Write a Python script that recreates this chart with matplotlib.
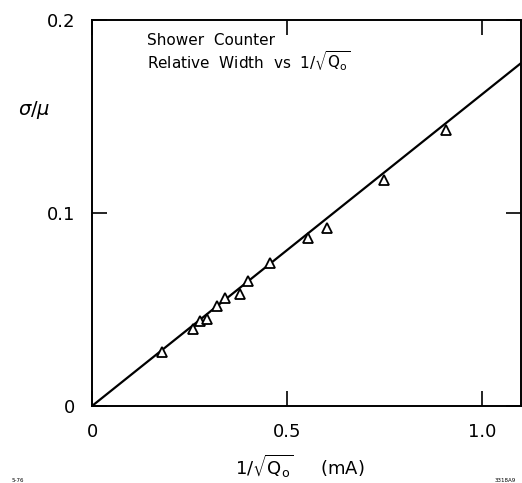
import matplotlib
matplotlib.use('Agg')
import matplotlib.pyplot as plt
import numpy as np

plt.rcParams['font.family'] = ['DejaVu Sans']
plt.rcParams['mathtext.fontset'] = 'dejavusans'

# данные
inv_sqrt_q = [0.18, 0.258, 0.278, 0.295, 0.321, 0.341, 0.380, 0.399, 0.456, 0.554, 0.603, 0.749, 0.908]
sigma_mu = [0.028, 0.040, 0.044, 0.045, 0.052, 0.056, 0.058, 0.065, 0.074, 0.087, 0.092, 0.117, 0.143]

# прямая через начало координат
fit_x = [0.0, 1.1]
fit_slope = 0.1615

W, H = 522, 483
fig = plt.figure(figsize=(W / 100, H / 100), dpi=100)
ax = fig.add_axes([92 / W, 1 - 406 / H, (521 - 92) / W, (406 - 20) / H])

fx = np.array(fit_x)
ax.plot(fx, fit_slope * fx, color='black', linewidth=1.6)
ax.plot(inv_sqrt_q, sigma_mu, linestyle='none', marker='^', markersize=7.5,
        markerfacecolor='white', markeredgecolor='black', markeredgewidth=1.3)

ax.set_xlim(0, 1.1)
ax.set_ylim(0, 0.2)
ax.set_xticks([0, 0.5, 1.0])
ax.set_xticklabels(['0', '0.5', '1.0'])
ax.set_yticks([0, 0.1, 0.2])
ax.set_yticklabels(['0', '0.1', '0.2'])
ax.tick_params(direction='in', length=11, width=1.2, labelsize=13,
               top=True, right=True, pad=12)
for s in ax.spines.values():
    s.set_linewidth(1.4)

ax.text(0.14, 0.1895, 'Shower  Counter', fontsize=11, va='center')
ax.text(0.14, 0.1785, r'Relative  Width  vs  $1/\sqrt{\mathrm{Q_o}}$', fontsize=11, va='center')

fig.text(18 / W, 1 - 110 / H, r'$\sigma/\mu$', fontsize=14, va='center', ha='left')
fig.text(300 / W, 1 - 466 / H, r'$1/\sqrt{\mathrm{Q_o}}$' + '     (mA)', fontsize=13,
         va='center', ha='center')
fig.text(12 / W, 1 - 480 / H, '5-76', fontsize=4, va='center')
fig.text(505 / W, 1 - 480 / H, '3318A9', fontsize=4, va='center', ha='center')

fig.savefig('out.png', dpi=100)
